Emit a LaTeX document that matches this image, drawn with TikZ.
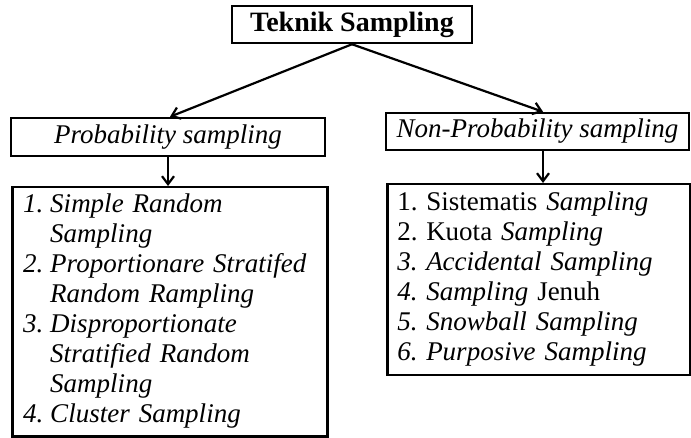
\documentclass[tikz,border=0pt]{standalone}
\usepackage{fontspec}
\setmainfont{Liberation Serif}
\usetikzlibrary{arrows.meta}
\tikzset{
  box/.style={draw=black, line width=2.5pt, inner sep=0pt},
  conn/.style={line width=2.2pt, -{Straight Barb[length=8pt,width=12pt,line width=2.2pt]}},
  listfont/.style={font=\fontsize{27}{30}\selectfont},
}
\begin{document}
\begin{tikzpicture}[x=1pt,y=-1pt]
\useasboundingbox (0,0) rectangle (691,438);
% top
\node[box, minimum width=240pt, minimum height=37pt, font=\fontsize{28}{30}\selectfont\bfseries] (top) at (352,24.5) {Teknik Sampling};
% level 2
\node[box, minimum width=314pt, minimum height=38pt, font=\fontsize{27}{30}\selectfont\itshape] (prob) at (168,137) {Probability sampling};
\node[box, minimum width=303pt, minimum height=37pt, font=\fontsize{27}{30}\selectfont\itshape] (nonprob) at (537.5,131.5) {Non-Probability sampling};
% lists
\node[box, anchor=north west, text width=293pt, minimum height=249pt, inner xsep=11pt, align=left, listfont] (plist) at (11,186) {%
\begin{tabular}{@{}p{27pt}@{}l@{}}
\textit{1.} & \textit{Simple Random}\\
 & \textit{Sampling}\\
\textit{2.} & \textit{Proportionare Stratifed}\\
 & \textit{Random Rampling}\\
\textit{3.} & \textit{Disproportionate}\\
 & \textit{Stratified Random}\\
 & \textit{Sampling}\\
\textit{4.} & \textit{Cluster Sampling}
\end{tabular}};
\node[box, anchor=north west, text width=283pt, minimum height=191pt, inner xsep=10pt, align=left, listfont] (nlist) at (386,183) {%
\begin{tabular}{@{}p{29pt}@{}l@{}}
1. & Sistematis \textit{Sampling}\\
2. & Kuota \textit{Sampling}\\
\textit{3.} & \textit{Accidental Sampling}\\
\textit{4.} & \textit{Sampling} Jenuh\\
\textit{5.} & \textit{Snowball Sampling}\\
\textit{6.} & \textit{Purposive Sampling}
\end{tabular}};
% connectors
\draw[conn] (top.south) -- ([xshift=2pt]prob.north);
\draw[conn] (top.south) -- ([xshift=5.5pt]nonprob.north);
\draw[conn] (prob.south) -- (prob.south |- plist.north);
\draw[conn] ([xshift=5.5pt]nonprob.south) -- ([xshift=5.5pt]nonprob.south |- nlist.north);
\end{tikzpicture}
\end{document}
